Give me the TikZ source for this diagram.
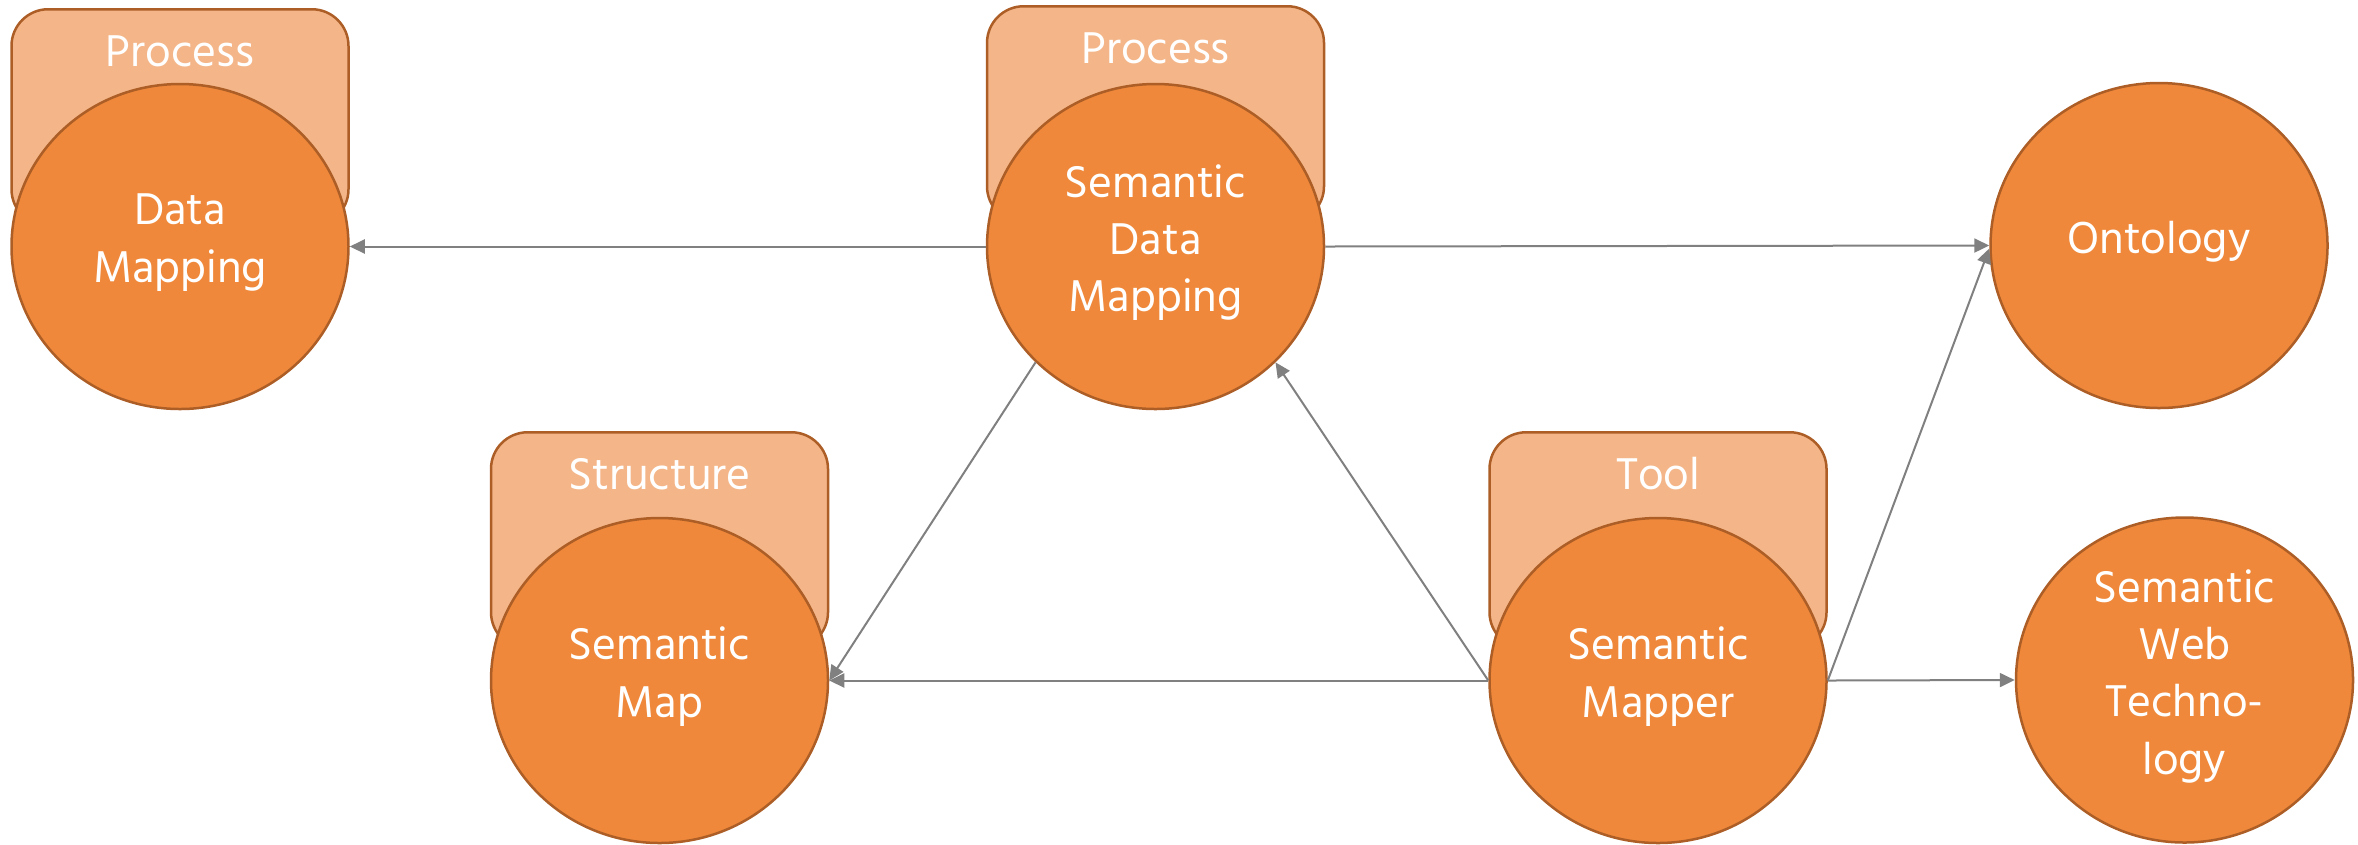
\documentclass[tikz,border=0pt]{standalone}
\usepackage{fontspec}
\setmainfont{Hind Siliguri}
\usetikzlibrary{shapes.geometric,arrows.meta}
\definecolor{circfill}{RGB}{239,136,58}
\definecolor{circline}{RGB}{172,94,38}
\definecolor{tabfill}{RGB}{244,182,137}
\definecolor{edgegray}{RGB}{128,128,128}
\tikzset{
  bubble/.style={ellipse, draw=circline, fill=circfill, line width=0.75pt,
    minimum width=101.1pt, minimum height=97.5pt, inner sep=0pt},
  tabbox/.style={rectangle, rounded corners=11pt, draw=circline, fill=tabfill,
    line width=0.75pt, minimum width=101.1pt, minimum height=65pt, inner sep=0pt, anchor=north},
  txt/.style={text=white, align=center, font=\fontsize{13.7}{17.2}\selectfont, inner sep=0pt, yshift=1.2pt},
  tabtxt/.style={text=white, font=\fontsize{13.7}{17.4}\selectfont, inner sep=0pt, anchor=base},
  arr/.style={draw=edgegray, line width=0.6pt, -{Triangle[length=4.5pt,width=4.2pt]}}
}
\begin{document}
\begin{tikzpicture}[x=0.3pt,y=-0.3pt]
\useasboundingbox (0,0) rectangle (2358,844);
% tabs
\node[tabbox] (dmtab) at (180,8) {};
\node[tabtxt] (dmtabt) at (180,66) {Process};
\node[tabbox] (sdmtab) at (1155.5,5) {};
\node[tabtxt] (sdmtabt) at (1155.5,63) {Process};
\node[tabbox] (smaptab) at (659.5,431) {};
\node[tabtxt] (smaptabt) at (659.5,489) {Structure};
\node[tabbox] (mappertab) at (1658,431) {};
\node[tabtxt] (mappertabt) at (1658,489) {Tool};
% bubbles
\node[bubble] (dm) at (180,246.5) {};
\node[txt] (dmt) at (dm) {Data\\Mapping};
\node[bubble] (sdm) at (1155.5,246.5) {};
\node[txt] (sdmt) at (sdm) {Semantic\\Data\\Mapping};
\node[bubble] (onto) at (2159,245.5) {};
\node[txt] (ontot) at (onto) {Ontology};
\node[bubble] (smap) at (659.5,680.5) {};
\node[txt] (smapt) at (smap) {Semantic\\Map};
\node[bubble] (mapper) at (1658,680.5) {};
\node[txt] (mappert) at (mapper) {Semantic\\Mapper};
\node[bubble] (swt) at (2184.5,680) {};
\node[txt] (swtt) at (swt) {Semantic\\Web\\Techno-\\logy};
% edges
\draw[arr] (sdm.west) -- (dm.east);
\draw[arr] (sdm.east) -- (onto.west);
\draw[arr] (sdm.-136) -- (smap.east);
\draw[arr] (mapper.west) -- (smap.east);
\draw[arr] (mapper.west) -- (sdm.-44);
\draw[arr] (mapper.east) -- (onto.-179);
\draw[arr] (mapper.east) -- (swt.west);
\end{tikzpicture}
\end{document}
